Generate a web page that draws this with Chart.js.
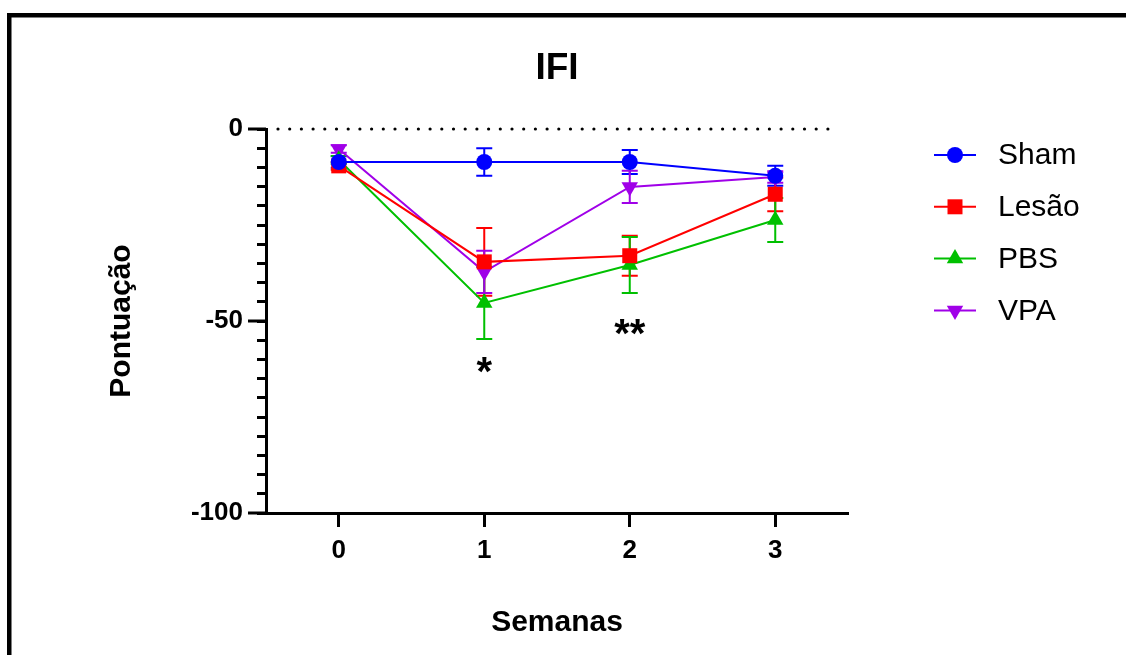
<!DOCTYPE html>
<html>
<head>
<meta charset="utf-8">
<script src="https://cdn.jsdelivr.net/npm/chart.js@4"></script>
<style>
  html, body { margin: 0; padding: 0; background: #fff; }
  #wrap { width: 1126px; height: 655px; }
</style>
</head>
<body>
<div id="wrap"><canvas id="ifiChart" width="1126" height="655"></canvas></div>
<script>
// weeks on the x axis
const semanas = [0, 1, 2, 3];

// group means (Pontuação) and their error bars
const shamValues  = [-8.6, -8.6, -8.6, -12.2];
const shamErr     = [1.5, 3.6, 3.1, 2.6];
const lesaoValues = [-9.6, -34.6, -33.0, -17.0];
const lesaoErr    = [1.0, 8.8, 5.2, 4.4];
const pbsValues   = [-8.0, -45.3, -35.4, -23.7];
const pbsErr      = [1.0, 9.4, 7.3, 5.7];
const vpaValues   = [-5.2, -37.2, -15.1, -12.5];
const vpaErr      = [1.0, 5.5, 4.2, 1.5];

// significance marks: week, height, text
const sigWeeks  = [1, 2];
const sigLevels = [-60.7, -50.8];
const sigText   = ['*', '**'];

const yMajorTicks = [0, -50, -100];

const FONT = '"Liberation Sans", Arial, sans-serif';

const makeSet = (label, values, errors, color, style, radius, rotation) => ({
    label: label,
    data: semanas.map((w, i) => ({x: w, y: values[i]})),
    errors: errors,
    borderColor: color,
    backgroundColor: color,
    borderWidth: 2,
    pointStyle: style,
    pointRadius: radius,
    pointHoverRadius: radius,
    pointRotation: rotation,
    pointBorderWidth: 0,
    tension: 0
});

const datasets = [
    makeSet('Sham', shamValues, shamErr, '#0000FF', 'circle', 8, 0),
    makeSet('Lesão', lesaoValues, lesaoErr, '#FF0000', 'rect', 10.6, 0),
    makeSet('PBS', pbsValues, pbsErr, '#00C000', 'triangle', 9.5, 0),
    makeSet('VPA', vpaValues, vpaErr, '#A000E8', 'triangle', 9.5, 180)
];

// frame, title, zero line, error bars, extra ticks, stars and legend
const decorPlugin = {
    id: 'decor',
    beforeDraw(chart) {
        const ctx = chart.ctx;
        ctx.save();
        ctx.fillStyle = '#fff';
        ctx.fillRect(0, 0, chart.width, chart.height);
        ctx.fillStyle = '#000';
        ctx.fillRect(7, 13, chart.width - 7, 4.5);
        ctx.fillRect(7, 13, 4.5, chart.height - 13);

        ctx.font = 'bold 37px ' + FONT;
        ctx.textAlign = 'center';
        ctx.textBaseline = 'alphabetic';
        ctx.fillText('IFI', 557, 79);
        ctx.restore();
    },
    beforeDatasetsDraw(chart) {
        const ctx = chart.ctx;
        const xs = chart.scales.x;
        const ys = chart.scales.y;
        ctx.save();

        // dotted line at zero
        const y0 = ys.getPixelForValue(0);
        ctx.strokeStyle = '#000';
        ctx.lineWidth = 3.2;
        ctx.lineCap = 'round';
        ctx.setLineDash([0, 11.7]);
        ctx.beginPath();
        ctx.moveTo(278, y0);
        ctx.lineTo(838, y0);
        ctx.stroke();
        ctx.setLineDash([]);
        ctx.lineCap = 'butt';

        // longer ticks for the labelled values
        ctx.lineWidth = 3;
        yMajorTicks.forEach(v => {
            const py = ys.getPixelForValue(v);
            ctx.beginPath();
            ctx.moveTo(ys.right - 18, py);
            ctx.lineTo(ys.right, py);
            ctx.stroke();
        });

        // error bars
        ctx.lineWidth = 2;
        chart.data.datasets.forEach(ds => {
            ctx.strokeStyle = ds.borderColor;
            ds.data.forEach((p, i) => {
                const px = xs.getPixelForValue(p.x);
                const top = ys.getPixelForValue(p.y + ds.errors[i]);
                const bot = ys.getPixelForValue(p.y - ds.errors[i]);
                ctx.beginPath();
                ctx.moveTo(px, top);
                ctx.lineTo(px, bot);
                ctx.moveTo(px - 8, top);
                ctx.lineTo(px + 8, top);
                ctx.moveTo(px - 8, bot);
                ctx.lineTo(px + 8, bot);
                ctx.stroke();
            });
        });
        ctx.restore();
    },
    afterDraw(chart) {
        const ctx = chart.ctx;
        const xs = chart.scales.x;
        const ys = chart.scales.y;
        ctx.save();

        ctx.fillStyle = '#000';
        ctx.font = 'bold 40px ' + FONT;
        ctx.textAlign = 'center';
        ctx.textBaseline = 'alphabetic';
        sigWeeks.forEach((w, i) => {
            ctx.fillText(sigText[i], xs.getPixelForValue(w), ys.getPixelForValue(sigLevels[i]) + 23);
        });

        // legend
        chart.data.datasets.forEach((ds, i) => {
            const ly = 155 + i * 51.8;
            ctx.strokeStyle = ds.borderColor;
            ctx.lineWidth = 2;
            ctx.beginPath();
            ctx.moveTo(934, ly);
            ctx.lineTo(976, ly);
            ctx.stroke();
            ctx.fillStyle = ds.backgroundColor;
            ctx.beginPath();
            if (ds.pointStyle === 'circle') {
                ctx.arc(955, ly, ds.pointRadius, 0, Math.PI * 2);
            } else if (ds.pointStyle === 'rect') {
                const s = ds.pointRadius * Math.SQRT1_2;
                ctx.rect(955 - s, ly - s, 2 * s, 2 * s);
            } else {
                let rad = ds.pointRotation * Math.PI / 180;
                const r = ds.pointRadius;
                ctx.moveTo(955 + Math.sin(rad) * r, ly - Math.cos(rad) * r);
                rad += 2 * Math.PI / 3;
                ctx.lineTo(955 + Math.sin(rad) * r, ly - Math.cos(rad) * r);
                rad += 2 * Math.PI / 3;
                ctx.lineTo(955 + Math.sin(rad) * r, ly - Math.cos(rad) * r);
                ctx.closePath();
            }
            ctx.fill();

            ctx.fillStyle = '#000';
            ctx.font = '30px ' + FONT;
            ctx.textAlign = 'left';
            ctx.textBaseline = 'middle';
            ctx.fillText(ds.label, 998, ly + 1);
        });
        ctx.restore();
    }
};

new Chart(document.getElementById('ifiChart'), {
    type: 'line',
    data: { datasets: datasets },
    plugins: [decorPlugin],
    options: {
        responsive: false,
        animation: false,
        layout: { padding: { top: 129, left: 100, right: 278, bottom: 10 } },
        plugins: {
            legend: { display: false },
            title: { display: false },
            tooltip: { enabled: false }
        },
        scales: {
            x: {
                type: 'linear',
                min: -0.5,
                max: 3.5,
                afterBuildTicks: (scale) => {
                    scale.ticks = semanas.map(v => ({value: v}));
                },
                afterFit: (scale) => { scale.height = 132; },
                border: { display: true, color: '#000', width: 3 },
                grid: { display: true, drawOnChartArea: false, drawTicks: true, tickLength: 14, tickColor: '#000', tickWidth: 3 },
                ticks: {
                    color: '#000',
                    padding: 8,
                    maxRotation: 0,
                    font: { family: FONT, size: 26, weight: 'bold' }
                },
                title: {
                    display: true,
                    text: 'Semanas',
                    color: '#000',
                    padding: { top: 0, bottom: 4 },
                    font: { family: FONT, size: 30, weight: 'bold' }
                }
            },
            y: {
                min: -100,
                max: 0,
                afterBuildTicks: (scale) => {
                    const t = [];
                    for (let v = -100; v <= 0; v += 5) t.push({value: v});
                    scale.ticks = t;
                },
                afterFit: (scale) => { scale.width = 166; },
                border: { display: true, color: '#000', width: 3 },
                grid: { display: true, drawOnChartArea: false, drawTicks: true, tickLength: 9, tickColor: '#000', tickWidth: 3 },
                ticks: {
                    color: '#000',
                    padding: 14,
                    autoSkip: false,
                    callback: (v) => yMajorTicks.includes(v) ? String(v) : '',
                    font: { family: FONT, size: 26, weight: 'bold' }
                },
                title: {
                    display: true,
                    text: 'Pontuação',
                    color: '#000',
                    padding: { top: 4, bottom: 0 },
                    font: { family: FONT, size: 30, weight: 'bold' }
                }
            }
        }
    }
});
</script>
</body>
</html>
